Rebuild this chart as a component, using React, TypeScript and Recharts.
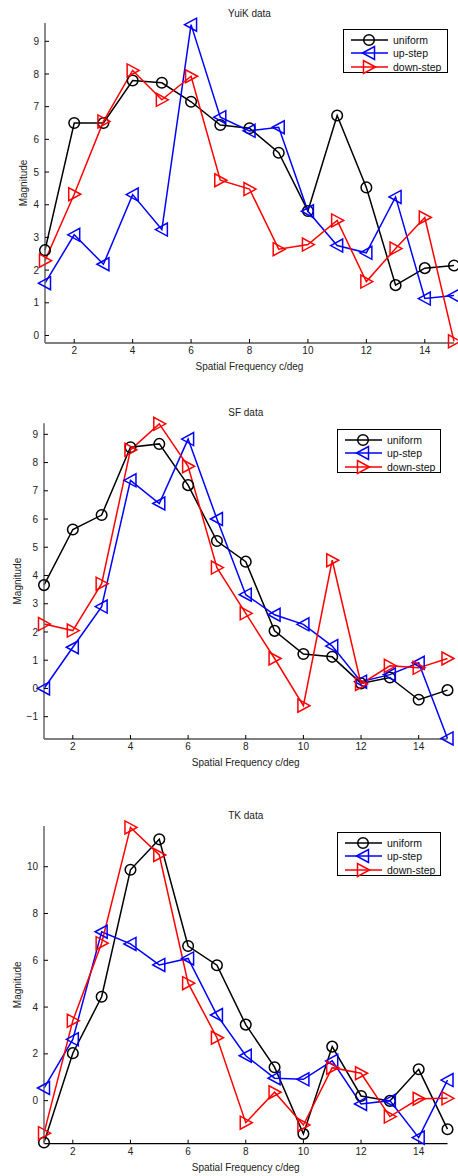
import React from 'react';
import { LineChart, Line, XAxis, YAxis } from 'recharts';

// spatial frequencies (c/deg)
const freqs = [1, 2, 3, 4, 5, 6, 7, 8, 9, 10, 11, 12, 13, 14, 15];
const xTicks = [2, 4, 6, 8, 10, 12, 14];

// YuiK
const yuikUniform = [2.61, 6.5, 6.5, 7.8, 7.73, 7.15, 6.44, 6.34, 5.59, 3.81, 6.73, 4.53, 1.54, 2.06, 2.14];
const yuikUp = [1.6, 3.08, 2.18, 4.31, 3.24, 9.51, 6.68, 6.26, 6.37, 3.8, 2.75, 2.53, 4.24, 1.13, 1.22];
const yuikDown = [2.29, 4.32, 6.55, 8.11, 7.21, 7.93, 4.75, 4.48, 2.64, 2.78, 3.52, 1.65, 2.66, 3.61, -0.18];
const yuikTicks = [0, 1, 2, 3, 4, 5, 6, 7, 8, 9];

// SF
const sfUniform = [3.66, 5.63, 6.14, 8.54, 8.66, 7.2, 5.22, 4.49, 2.04, 1.22, 1.12, 0.18, 0.39, -0.4, -0.06];
const sfUp = [0.0, 1.46, 2.9, 7.37, 6.55, 8.83, 6.0, 3.32, 2.61, 2.27, 1.5, 0.24, 0.49, 0.91, -1.77];
const sfDown = [2.28, 2.05, 3.71, 8.45, 9.37, 7.87, 4.28, 2.66, 1.06, -0.61, 4.54, 0.16, 0.8, 0.73, 1.06];
const sfTicks = [-1, 0, 1, 2, 3, 4, 5, 6, 7, 8, 9];

// TK
const tkUniform = [-1.79, 2.03, 4.44, 9.87, 11.17, 6.61, 5.79, 3.25, 1.43, -1.42, 2.31, 0.2, -0.01, 1.34, -1.22];
const tkUp = [0.54, 2.62, 7.22, 6.7, 5.8, 6.08, 3.66, 1.92, 0.96, 0.91, 1.7, -0.14, 0.0, -1.58, 0.88];
const tkDown = [-1.39, 3.42, 6.73, 11.68, 10.5, 5.02, 2.69, -0.94, 0.36, -1.04, 1.41, 1.17, -0.68, 0.08, 0.1];
const tkTicks = [0, 2, 4, 6, 8, 10];

const FONT = '"Liberation Sans", Arial, sans-serif';

const CircleMark = ({ cx, cy, color }: any) => (
  <circle cx={cx} cy={cy} r={5.3} fill="none" stroke={color} strokeWidth={1.5} />
);

const LeftTri = ({ cx, cy, color }: any) => (
  <polygon
    points={`${cx - 6.5},${cy} ${cx + 5.5},${cy - 6.5} ${cx + 5.5},${cy + 6.5}`}
    fill="none"
    stroke={color}
    strokeWidth={1.5}
  />
);

const RightTri = ({ cx, cy, color }: any) => (
  <polygon
    points={`${cx + 6.5},${cy} ${cx - 5.5},${cy - 6.5} ${cx - 5.5},${cy + 6.5}`}
    fill="none"
    stroke={color}
    strokeWidth={1.5}
  />
);

const series = [
  { key: 'uniform', name: 'uniform', color: '#000000', Mark: CircleMark },
  { key: 'up', name: 'up-step', color: '#0000ff', Mark: LeftTri },
  { key: 'down', name: 'down-step', color: '#ff0000', Mark: RightTri },
];

const minusFmt = (v: number) => String(v).replace('-', '\u2212');

interface PanelProps {
  title: string;
  uniform: number[];
  up: number[];
  down: number[];
  yDomain: [number, number];
  yTicks: number[];
  top: number;
  height: number;
  plotLeft: number;
  marginTop: number;
  marginRight: number;
  marginBottom: number;
  titleY: number;
  yLabelX: number;
  legend: { left: number; top: number; width: number };
}

const Legend = ({ left, top, width }: { left: number; top: number; width: number }) => (
  <div
    style={{
      position: 'absolute',
      left,
      top,
      width,
      height: 44,
      border: '1.5px solid #000',
      boxSizing: 'border-box',
      background: '#fff',
      fontFamily: FONT,
      fontSize: 10.5,
    }}
  >
    {series.map((s, i) => {
      const cy = 9.5 + i * 13.5;
      return (
        <React.Fragment key={s.key}>
          <svg style={{ position: 'absolute', left: 0, top: cy - 8 }} width={48} height={16}>
            <line x1={7} y1={8} x2={44} y2={8} stroke={s.color} strokeWidth={1.5} />
            <s.Mark cx={25} cy={8} color={s.color} />
          </svg>
          <span style={{ position: 'absolute', left: 49, top: cy - 7, lineHeight: '14px', color: '#111' }}>
            {s.name}
          </span>
        </React.Fragment>
      );
    })}
  </div>
);

const Panel = (p: PanelProps) => {
  const rows = freqs.map((f, i) => ({ f, uniform: p.uniform[i], up: p.up[i], down: p.down[i] }));
  const plotBottom = p.height - p.marginBottom - 20;
  const plotCenterY = (p.marginTop + plotBottom) / 2;
  const plotCenterX = (p.plotLeft + 458 - p.marginRight) / 2;

  return (
    <div style={{ position: 'absolute', left: 0, top: p.top, width: 458, height: p.height }}>
      <div
        style={{
          position: 'absolute',
          left: plotCenterX - 100,
          top: p.titleY - 7,
          width: 200,
          textAlign: 'center',
          fontFamily: FONT,
          fontSize: 10,
          lineHeight: '14px',
          color: '#222',
        }}
      >
        {p.title}
      </div>
      <LineChart
        width={458}
        height={p.height}
        data={rows}
        margin={{ top: p.marginTop, right: p.marginRight, bottom: p.marginBottom, left: 0 }}
        style={{ fontFamily: FONT }}
      >
        <XAxis
          dataKey="f"
          type="number"
          domain={[1, 15]}
          ticks={xTicks}
          height={20}
          tickSize={-4}
          tickMargin={8}
          tick={{ fill: '#222', fontSize: 10 }}
          axisLine={{ stroke: '#000', strokeWidth: 1.2 }}
          tickLine={{ stroke: '#000' }}
          label={{ value: 'Spatial Frequency c/deg', position: 'bottom', offset: 0, fill: '#222', fontSize: 10 }}
        />
        <YAxis
          type="number"
          domain={p.yDomain}
          ticks={p.yTicks}
          width={p.plotLeft}
          tickSize={-4}
          tickMargin={10}
          tickFormatter={minusFmt}
          tick={{ fill: '#222', fontSize: 10 }}
          axisLine={{ stroke: '#6e6e6e', strokeWidth: 1.6 }}
          tickLine={{ stroke: '#000' }}
          label={{
            content: () => (
              <text
                x={p.yLabelX}
                y={plotCenterY}
                transform={`rotate(-90, ${p.yLabelX}, ${plotCenterY})`}
                textAnchor="middle"
                dominantBaseline="central"
                fill="#222"
                fontSize={10}
                fontFamily={FONT}
              >
                Magnitude
              </text>
            ),
          }}
        />
        {series.map((s) => (
          <Line
            key={s.key}
            type="linear"
            dataKey={s.key}
            stroke={s.color}
            strokeWidth={1.5}
            isAnimationActive={false}
            activeDot={false}
            dot={(d: any) => <s.Mark key={`${s.key}-${d.index}`} cx={d.cx} cy={d.cy} color={s.color} />}
          />
        ))}
      </LineChart>
      <Legend {...p.legend} />
    </div>
  );
};

export default function App() {
  return (
    <div style={{ position: 'absolute', left: 0, top: 0, width: 458, height: 1176, background: '#fff' }}>
      <Panel
        title="YuiK data"
        uniform={yuikUniform}
        up={yuikUp}
        down={yuikDown}
        yDomain={[-0.23, 9.56]}
        yTicks={yuikTicks}
        top={0}
        height={390}
        plotLeft={45}
        marginTop={23}
        marginRight={4}
        marginBottom={27}
        titleY={13.5}
        yLabelX={23}
        legend={{ left: 343, top: 29, width: 105 }}
      />
      <Panel
        title="SF data"
        uniform={sfUniform}
        up={sfUp}
        down={sfDown}
        yDomain={[-1.79, 9.39]}
        yTicks={sfTicks}
        top={390}
        height={395}
        plotLeft={44}
        marginTop={33.3}
        marginRight={10.5}
        marginBottom={26}
        titleY={23}
        yLabelX={18}
        legend={{ left: 337, top: 39, width: 104 }}
      />
      <Panel
        title="TK data"
        uniform={tkUniform}
        up={tkUp}
        down={tkDown}
        yDomain={[-1.84, 11.74]}
        yTicks={tkTicks}
        top={790}
        height={386}
        plotLeft={44}
        marginTop={36}
        marginRight={10.5}
        marginBottom={12.3}
        titleY={25.5}
        yLabelX={18}
        legend={{ left: 337, top: 42, width: 104 }}
      />
    </div>
  );
}
